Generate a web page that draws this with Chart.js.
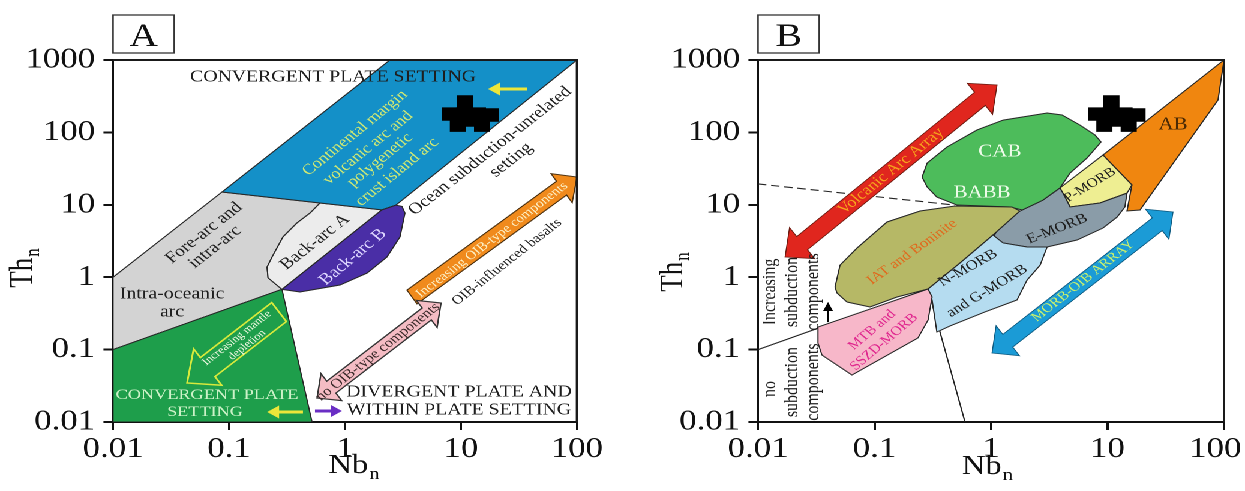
<!DOCTYPE html>
<html>
<head>
<meta charset="utf-8">
<title>Th-Nb discrimination diagrams</title>
<script src="https://cdn.jsdelivr.net/npm/chart.js@4.4.1/dist/chart.umd.min.js"></script>
<style>
  html, body { margin: 0; padding: 0; background: #fff; overflow: hidden; }
  /* the figure is laid out narrow and widened by the stage transform */
  #stage { position: absolute; left: 0; top: 0; width: 1045px; height: 491px;
           transform: scaleX(1.2); transform-origin: 0 0; }
  #stage canvas { position: absolute; top: 0; }
  #cA { left: 0; }
  #cB { left: 525px; }
</style>
</head>
<body>
<div id="stage">
  <canvas id="cA" width="525" height="491"></canvas>
  <canvas id="cB" width="520" height="491"></canvas>
</div>
<script>
// ---------- axes ----------
const nbTicks = [0.01, 0.1, 1, 10, 100];
const nbTickLabels = ['0.01', '0.1', '1', '10', '100'];
// last label of the right panel is nudged inward so it stays on the page
const nbTickLabelsB = ['0.01', '0.1', '1', '10', '100\u00a0\u00a0'];
const thTicks = [0.01, 0.1, 1, 10, 100, 1000];
const thTickLabels = ['0.01', '0.1', '1', '10', '100', '1000'];

// ---------- sample analyses (Nb_n, Th_n) ----------
const sampleNb = [10.8, 8.0, 10.6, 14.0, 18.1, 9.4, 15.2, 12.0];
const sampleTh = [263, 179, 179, 179, 174, 126, 126, 148];

// ---------- diagram A fields, vertices as [Nb_n, Th_n] ----------
const arcContinental = [[2.44, 1000], [100, 1000], [2.75, 9.9], [2.08, 8.5], [0.61, 10.6], [0.087, 15]];
const arcForeIntra = [[0.01, 1], [0.087, 15], [0.61, 10.6], [0.5, 7.7], [0.385, 5.6], [0.292, 3.6],
                      [0.235, 1.9], [0.213, 1.38], [0.217, 0.98], [0.286, 0.68], [0.01, 0.1]];
const backArcA = [[0.61, 10.6], [2.08, 8.5], [0.286, 0.68], [0.217, 0.98], [0.213, 1.38], [0.235, 1.9],
                  [0.292, 3.6], [0.385, 5.6], [0.5, 7.7]];
const backArcB = [[0.286, 0.68], [2.08, 8.5], [2.75, 9.9], [3.1, 9.5], [3.29, 7.7], [2.98, 3.6],
                  [2.3, 1.9], [1.55, 1.14], [0.906, 0.78], [0.409, 0.625]];
const convergentLow = [[0.01, 0.1], [0.286, 0.68], [0.52, 0.01], [0.01, 0.01]];

// ---------- diagram B fields ----------
const fieldAB = [[9.15, 48.7], [100, 1000], [88.8, 280], [19, 8.47], [14.7, 8.21], [16.2, 18.8]];
const fieldPMORB = [[3.91, 17.1], [9.15, 48.7], [16.2, 18.8], [14.7, 14.5], [8.62, 10.6], [4.77, 9.33], [4.32, 12.8]];
const fieldEMORB = [[1.85, 8.47], [2.79, 11.6], [3.91, 17.1], [4.32, 12.8], [4.77, 9.33], [8.62, 10.6],
                    [14.7, 14.5], [14.1, 9.33], [12.1, 6.78], [9.15, 4.78], [5.47, 3.26], [3.03, 2.61],
                    [2.04, 2.61], [1.27, 2.97], [1.02, 3.26], [1.13, 4.49], [1.71, 7.96]];
const fieldCAB = [[0.256, 24.2], [0.283, 37.8], [0.419, 62.9], [0.759, 108], [1.27, 148], [3.03, 185],
                  [4.07, 174], [5.81, 126], [7.81, 92], [8.8, 73.7], [6.67, 44.3], [4.77, 27.5],
                  [3.91, 17.1], [2.79, 11.6], [1.85, 8.47], [1.46, 9.33], [0.511, 9.93], [0.343, 12.8], [0.283, 17.6]];
const fieldIAT = [[0.0458, 0.732], [0.0506, 1.47], [0.0708, 2.53], [0.128, 5.79], [0.246, 8.21], [0.491, 9.62],
                  [1.51, 9.33], [1.77, 8.21], [1.04, 3.83], [0.542, 1.57], [0.288, 0.687], [0.156, 0.533],
                  [0.0914, 0.388], [0.0581, 0.454], [0.0476, 0.605]];
const fieldNMORB = [[0.288, 0.687], [0.542, 1.57], [1.04, 3.83], [1.27, 2.97], [2.04, 2.61], [3.03, 2.61],
                    [2.64, 1.47], [2.04, 0.914], [1.67, 0.484], [0.887, 0.331], [0.445, 0.212], [0.343, 0.175], [0.312, 0.484]];
const fieldMTB = [[0.0327, 0.205], [0.288, 0.687], [0.312, 0.533], [0.288, 0.256], [0.236, 0.145],
                  [0.064, 0.0446], [0.0354, 0.084], [0.0327, 0.123]];
const subductionLine = [[0.01, 0.1], [0.288, 0.687]];
const morbBoundary = [[0.288, 0.687], [0.598, 0.01]];
const arcDashed = [[0.01, 19.4], [0.491, 9.9]];

// ---------- rendering helpers ----------
const SX = 1.2;   // horizontal widening applied by #stage
const SERIF = "'Liberation Serif', 'Times New Roman', serif";

const closed = poly => poly.concat([poly[0]]).map(([x, y]) => ({x, y}));
const open = poly => poly.map(([x, y]) => ({x, y}));

function field(poly, color) {
  return { type: 'line', data: closed(poly), backgroundColor: color, borderColor: '#262626',
           borderWidth: 1, fill: 'shape', pointRadius: 0, tension: 0 };
}
function segment(poly, dash) {
  return { type: 'line', data: open(poly), borderColor: '#222', borderWidth: 1.1,
           borderDash: dash || [], fill: false, pointRadius: 0, tension: 0 };
}
function samples() {
  return { type: 'scatter', data: sampleNb.map((x, i) => ({x, y: sampleTh[i]})),
           pointStyle: 'rect', pointRadius: 9.5, backgroundColor: '#000', borderWidth: 0 };
}
// later entries are painted over earlier ones
function stack(list) { return list.map((d, i) => Object.assign(d, {order: list.length - i})); }

function logAxis(ticks, labels) {
  return {
    type: 'logarithmic', min: ticks[0], max: ticks[ticks.length - 1],
    afterBuildTicks: s => { s.ticks = ticks.map(v => ({value: v})); },
    ticks: { autoSkip: false, maxRotation: 0, color: '#111',
             font: {family: SERIF, size: 29}, callback: (v, i) => labels[i] },
    grid: { drawOnChartArea: false, drawTicks: true, tickLength: 8, tickWidth: 2, tickColor: '#111' },
    border: { display: true, color: '#111', width: 2 }
  };
}
function axes(yWidth, xLabels) {
  const x = logAxis(nbTicks, xLabels);
  x.ticks.padding = 2;
  x.afterFit = s => { s.height = 69; s.paddingLeft = 0; s.paddingRight = 0; };
  const y = logAxis(thTicks, thTickLabels);
  y.ticks.padding = 7;
  y.afterFit = s => { s.width = yWidth; s.paddingTop = 0; s.paddingBottom = 0; };
  return {x, y};
}

// arrow outline built in displayed proportions, then mapped back to canvas units
function drawArrow(ctx, p0, p1, a) {
  const ax = p0.x * SX, ay = p0.y, bx = p1.x * SX, by = p1.y;
  const dx = bx - ax, dy = by - ay, L = Math.hypot(dx, dy);
  const ux = dx / L, uy = dy / L, nx = -uy, ny = ux;
  const sw = a.shaft / 2, hw = a.headW / 2, hl = a.headL;
  const at = (s, t) => [(ax + ux * s + nx * t) / SX, ay + uy * s + ny * t];
  const pts = a.both
    ? [at(0, 0), at(hl, hw), at(hl, sw), at(L - hl, sw), at(L - hl, hw), at(L, 0),
       at(L - hl, -hw), at(L - hl, -sw), at(hl, -sw), at(hl, -hw)]
    : [at(0, sw), at(L - hl, sw), at(L - hl, hw), at(L, 0), at(L - hl, -hw), at(L - hl, -sw), at(0, -sw)];
  ctx.save();
  ctx.beginPath();
  pts.forEach(([x, y], i) => i ? ctx.lineTo(x, y) : ctx.moveTo(x, y));
  ctx.closePath();
  if (a.fill) { ctx.fillStyle = a.fill; ctx.fill(); }
  if (a.stroke) { ctx.strokeStyle = a.stroke; ctx.lineWidth = a.lw || 1; ctx.stroke(); }
  ctx.restore();
}

function drawLabel(ctx, x, y, l) {
  ctx.save();
  ctx.translate(x, y);
  if (l.rot) {
    const r = l.rot * Math.PI / 180;
    ctx.rotate(Math.atan2(Math.sin(r), Math.cos(r) / SX));
  }
  ctx.font = `${l.size}px ${SERIF}`;
  ctx.fillStyle = l.color || '#1e1e1e';
  ctx.textAlign = 'center';
  ctx.textBaseline = 'middle';
  ctx.fillText(l.t, 0, 0);
  ctx.restore();
}

// text with a lowered subscript, centred on the origin
function drawSubscripted(ctx, main, sub, size) {
  ctx.font = `${size}px ${SERIF}`;
  const wm = ctx.measureText(main).width;
  const subFont = `${Math.round(size * 0.62)}px ${SERIF}`;
  ctx.font = subFont;
  const ws = ctx.measureText(sub).width;
  const start = -(wm + ws + 1) / 2;
  ctx.textAlign = 'left';
  ctx.textBaseline = 'alphabetic';
  ctx.font = `${size}px ${SERIF}`;
  ctx.fillText(main, start, 0);
  ctx.font = subFont;
  ctx.fillText(sub, start + wm + 1, size * 0.22);
}

function diagram(cfg) {
  return {
    id: 'diagram' + cfg.panel,
    afterDatasetsDraw(chart) {
      const {ctx} = chart, X = chart.scales.x, Y = chart.scales.y;
      const P = (nb, th) => ({x: X.getPixelForValue(nb), y: Y.getPixelForValue(th)});
      cfg.arrows.forEach(a => drawArrow(ctx, P(...a.from), P(...a.to), a));
      cfg.labels.forEach(l => { const p = P(l.nb, l.th); drawLabel(ctx, p.x, p.y, l); });
    },
    afterDraw(chart) {
      const {ctx, chartArea: ca} = chart;
      ctx.save();
      // frame: top and right edges
      ctx.strokeStyle = '#1a1a1a';
      ctx.lineWidth = 2;
      ctx.beginPath();
      ctx.moveTo(ca.left, ca.top);
      ctx.lineTo(ca.right, ca.top);
      ctx.lineTo(ca.right, ca.bottom);
      ctx.stroke();
      // panel tag
      ctx.lineWidth = 1.3;
      ctx.strokeStyle = '#333';
      ctx.strokeRect(ca.left, 15, 51, 38);
      ctx.fillStyle = '#111';
      ctx.font = `33px ${SERIF}`;
      ctx.textAlign = 'center';
      ctx.textBaseline = 'alphabetic';
      ctx.fillText(cfg.panel, ca.left + 25.5, 46);
      // axis titles
      ctx.fillStyle = '#111';
      ctx.save();
      ctx.translate(cfg.yTitle[0], cfg.yTitle[1]);
      ctx.rotate(-Math.PI / 2);
      drawSubscripted(ctx, 'Th', 'n', 27);
      ctx.restore();
      ctx.save();
      ctx.translate(cfg.xTitle[0], cfg.xTitle[1]);
      drawSubscripted(ctx, 'Nb', 'n', 27);
      ctx.restore();
      ctx.restore();
    }
  };
}

function options(yWidth, padRight, xLabels) {
  return {
    responsive: false, devicePixelRatio: 2, animation: false, events: [],
    layout: { padding: { left: 0, right: padRight, top: 60, bottom: 0 } },
    scales: axes(yWidth, xLabels),
    plugins: { legend: { display: false }, tooltip: { enabled: false } }
  };
}

// ---------- annotations ----------
const labelsA = [
  {t: 'CONVERGENT PLATE SETTING', nb: 0.788, th: 582, size: 16.5},
  {t: 'Continental margin', nb: 1.22, th: 98, rot: -39, size: 15, color: '#cfe874'},
  {t: 'volcanic arc and', nb: 1.58, th: 61, rot: -39, size: 15, color: '#cfe874'},
  {t: 'polygenetic', nb: 2.0, th: 41.6, rot: -39, size: 15, color: '#cfe874'},
  {t: 'crust island arc', nb: 2.81, th: 28.4, rot: -39, size: 15, color: '#cfe874'},
  {t: 'Fore-arc and', nb: 0.0608, th: 4.08, rot: -38, size: 16},
  {t: 'intra-arc', nb: 0.0757, th: 2.61, rot: -38, size: 16},
  {t: 'Back-arc A', nb: 0.551, th: 3.06, rot: -38, size: 16},
  {t: 'Back-arc B', nb: 1.17, th: 1.90, rot: -40, size: 16, color: '#ddd5ff'},
  {t: 'Intra-oceanic', nb: 0.0323, th: 0.586, size: 16.5},
  {t: 'arc', nb: 0.0323, th: 0.330, size: 16.5},
  {t: 'Ocean subduction-unrelated', nb: 17.8, th: 55.3, rot: -38, size: 16},
  {t: 'setting', nb: 27, th: 41.6, rot: -38, size: 16},
  {t: 'Increasing OIB-type components', nb: 18.5, th: 3.27, rot: -37, size: 12.5, color: '#fcefc4'},
  {t: 'OIB-influenced basalts', nb: 24.9, th: 1.62, rot: -38, size: 13},
  {t: 'no OIB-type components', nb: 1.92, th: 0.0927, rot: -38, size: 13.5, color: '#3a2a2a'},
  {t: 'DIVERGENT PLATE AND', nb: 9.6, th: 0.0259, size: 16.5},
  {t: 'WITHIN PLATE SETTING', nb: 9.6, th: 0.01466, size: 16.5},
  {t: 'CONVERGENT PLATE', nb: 0.0646, th: 0.0236, size: 15.2, color: '#cdf2c8'},
  {t: 'SETTING', nb: 0.0621, th: 0.01374, size: 15.2, color: '#cdf2c8'},
  {t: 'Increasing mantle', nb: 0.117, th: 0.1445, rot: -38, size: 10.5, color: '#eef8e0'},
  {t: 'depletion', nb: 0.143, th: 0.116, rot: -38, size: 10.5, color: '#eef8e0'}
];
const arrowsA = [
  {from: [37.1, 397], to: [17.1, 397], shaft: 3, headW: 13, headL: 12, fill: '#ece63a'},
  {from: [0.434, 0.01374], to: [0.213, 0.01374], shaft: 3, headW: 13, headL: 12, fill: '#ece63a'},
  {from: [0.551, 0.01419], to: [0.942, 0.01419], shaft: 3, headW: 12, headL: 11, fill: '#6a2ec4'},
  {from: [3.78, 0.533], to: [100, 24.2], shaft: 17, headW: 36, headL: 19, fill: '#f08a1c', stroke: '#4a3010', lw: 1},
  {from: [0.574, 0.0214], to: [6.73, 0.4406], both: true, shaft: 15, headW: 34, headL: 18,
   fill: '#f5bcc4', stroke: '#333', lw: 1.2},
  {from: [0.270, 0.330], to: [0.0435, 0.0346], shaft: 24, headW: 46, headL: 26, stroke: '#d8ea3c', lw: 1.5}
];

const labelsB = [
  {t: 'CAB', nb: 1.19, th: 53.6, size: 17.5, color: '#eefbe9'},
  {t: 'BABB', nb: 0.838, th: 14.6, size: 17.5, color: '#eefbe9'},
  {t: 'AB', nb: 36.5, th: 126, size: 17.5, color: '#4a2a05'},
  {t: 'P-MORB', nb: 7.08, th: 18.8, rot: -31, size: 13},
  {t: 'E-MORB', nb: 3.69, th: 4.64, rot: -21, size: 14},
  {t: 'N-MORB', nb: 0.635, th: 1.34, rot: -29, size: 14},
  {t: 'and G-MORB', nb: 0.925, th: 0.644, rot: -31, size: 14},
  {t: 'IAT and Boninite', nb: 0.210, th: 2.23, rot: -35, size: 13.5, color: '#e06a1e'},
  {t: 'MTB and', nb: 0.0953, th: 0.1866, rot: -40, size: 13, color: '#e0288f'},
  {t: 'SSZD-MORB', nb: 0.1208, th: 0.1273, rot: -40, size: 13, color: '#e0288f'},
  {t: 'Volcanic Arc Array', nb: 0.1386, th: 29.3, rot: -39, size: 15, color: '#f6a21c'},
  {t: 'MORB-OIB ARRAY', nb: 6.17, th: 0.887, rot: -38, size: 13, color: '#c8f06e'},
  {t: 'Increasing', nb: 0.01267, th: 0.625, rot: -90, size: 16},
  {t: 'subduction', nb: 0.0196, th: 0.625, rot: -90, size: 16},
  {t: 'components', nb: 0.0297, th: 0.625, rot: -90, size: 16},
  {t: 'no', nb: 0.01267, th: 0.0286, rot: -90, size: 16},
  {t: 'subduction', nb: 0.0196, th: 0.0356, rot: -90, size: 16},
  {t: 'components', nb: 0.0297, th: 0.0356, rot: -90, size: 16}
];
const arrowsB = [
  {from: [0.01706, 1.90], to: [1.126, 452], both: true, shaft: 17, headW: 40, headL: 22,
   fill: '#e0261e', stroke: '#6a1a10', lw: 0.8},
  {from: [1.02, 0.0897], to: [36.5, 7.96], both: true, shaft: 16, headW: 38, headL: 20,
   fill: '#1b9bd6', stroke: '#0d5a80', lw: 0.8},
  {from: [0.0399, 0.240], to: [0.0399, 0.454], shaft: 2, headW: 10, headL: 9, fill: '#000'}
];

// ---------- diagram A ----------
new Chart(document.getElementById('cA'), {
  type: 'line',
  data: { datasets: stack([
    field(arcForeIntra, '#d3d3d3'),
    field(backArcA, '#ececec'),
    field(convergentLow, '#1e9e4b'),
    field(arcContinental, '#1490c8'),
    field(backArcB, '#4a2ea6'),
    samples()
  ]) },
  options: options(94.2, 44.2, nbTickLabels),
  plugins: [diagram({panel: 'A', labels: labelsA, arrows: arrowsA, yTitle: [26.7, 268], xTitle: [295, 473]})]
});

// ---------- diagram B ----------
new Chart(document.getElementById('cB'), {
  type: 'line',
  data: { datasets: stack([
    segment(arcDashed, [7, 4]),
    segment(subductionLine),
    segment(morbBoundary),
    field(fieldAB, '#f0860f'),
    field(fieldPMORB, '#eeee92'),
    field(fieldEMORB, '#8a9ca8'),
    field(fieldCAB, '#4dbc5b'),
    field(fieldIAT, '#b6b866'),
    field(fieldNMORB, '#b5dcf0'),
    field(fieldMTB, '#f7b7c9'),
    samples()
  ]) },
  options: options(106.7, 25, nbTickLabelsB),
  plugins: [diagram({panel: 'B', labels: labelsB, arrows: arrowsB, yTitle: [43.3, 272], xTitle: [297.9, 474]})]
});
</script>
</body>
</html>
